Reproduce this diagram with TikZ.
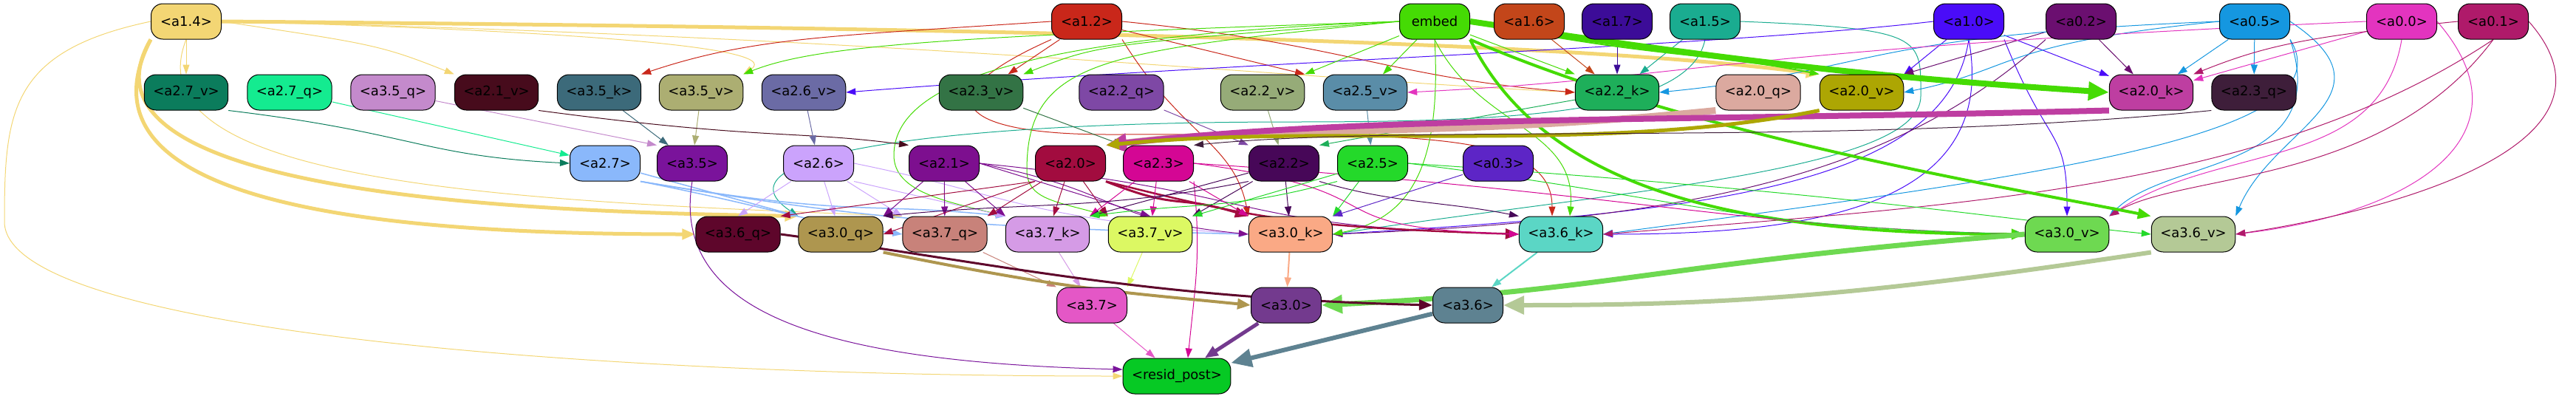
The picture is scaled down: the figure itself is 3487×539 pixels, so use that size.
\documentclass[tikz,border=0pt]{standalone}
\usepackage{fontspec}
\setmainfont{DejaVu Sans}
\usetikzlibrary{arrows.meta,backgrounds}

\definecolor{ca14}{HTML}{F3D674}
\definecolor{ca12}{HTML}{C9271A}
\definecolor{cemb}{HTML}{45DB04}
\definecolor{ca16}{HTML}{C3461A}
\definecolor{ca17}{HTML}{3C0C98}
\definecolor{ca15}{HTML}{1AAC90}
\definecolor{ca10}{HTML}{4A0CF8}
\definecolor{ca02}{HTML}{6B0F70}
\definecolor{ca05}{HTML}{1597E0}
\definecolor{ca00}{HTML}{E334BF}
\definecolor{ca01}{HTML}{AF1A6A}
\definecolor{ca27v}{HTML}{0B7C5C}
\definecolor{ca27q}{HTML}{14EB90}
\definecolor{ca35q}{HTML}{C48ACC}
\definecolor{ca21v}{HTML}{470B1C}
\definecolor{ca35k}{HTML}{3C6A7A}
\definecolor{ca35v}{HTML}{ACAE72}
\definecolor{ca26v}{HTML}{6B6BA5}
\definecolor{ca23v}{HTML}{337345}
\definecolor{ca22q}{HTML}{7E48A5}
\definecolor{ca22v}{HTML}{96AB78}
\definecolor{ca25v}{HTML}{5A8DA8}
\definecolor{ca22k}{HTML}{1EAF5A}
\definecolor{ca20q}{HTML}{DBA99F}
\definecolor{ca20v}{HTML}{ADA603}
\definecolor{ca20k}{HTML}{BE3EA1}
\definecolor{ca23q}{HTML}{3E1E3A}
\definecolor{ca27}{HTML}{8AB8FB}
\definecolor{ca35}{HTML}{7A139B}
\definecolor{ca26}{HTML}{CBA3FC}
\definecolor{ca21}{HTML}{7D0F8F}
\definecolor{ca20}{HTML}{A20C3F}
\definecolor{ca23}{HTML}{D40694}
\definecolor{ca22}{HTML}{470758}
\definecolor{ca25}{HTML}{24D92A}
\definecolor{ca03}{HTML}{5D25C6}
\definecolor{ca36q}{HTML}{5E062B}
\definecolor{ca30q}{HTML}{AE964F}
\definecolor{ca37q}{HTML}{C8827A}
\definecolor{ca37k}{HTML}{D59BE6}
\definecolor{ca37v}{HTML}{DCF863}
\definecolor{ca30k}{HTML}{FAA985}
\definecolor{ca36k}{HTML}{5BD6C5}
\definecolor{ca30v}{HTML}{6ED951}
\definecolor{ca36v}{HTML}{B4C996}
\definecolor{ca37}{HTML}{E457C6}
\definecolor{ca30}{HTML}{733A8E}
\definecolor{ca36}{HTML}{5E8291}
\definecolor{cres}{HTML}{06C924}

\tikzset{
  box/.style={draw=black, line width=1pt, rounded corners=16pt, minimum width=95pt,
    minimum height=48pt, inner xsep=12pt, font=\fontsize{18pt}{20pt}\selectfont},
  ed/.style={draw=#1, line width=1pt, -{Triangle[length=13pt,width=9pt]}},
  edm/.style={draw=#1, line width=3pt, -{Triangle[length=18pt,width=14pt]}},
  edb/.style={draw=#1, line width=6pt, -{Triangle[length=28pt,width=24pt]}},
}

\begin{document}
\begin{tikzpicture}[x=1pt,y=-1pt]
\useasboundingbox (0,0) rectangle (3487,539);

% top row
\node[box, fill=ca14] (a14) at (252,29) {<a1.4>};
\node[box, fill=ca12] (a12) at (1471,29) {<a1.2>};
\node[box, fill=cemb] (embed) at (1942,29) {embed};
\node[box, fill=ca16] (a16) at (2070,29) {<a1.6>};
\node[box, fill=ca17] (a17) at (2189,29) {<a1.7>};
\node[box, fill=ca15] (a15) at (2308,29) {<a1.5>};
\node[box, fill=ca10] (a10) at (2665,29) {<a1.0>};
\node[box, fill=ca02] (a02) at (2817,29) {<a0.2>};
\node[box, fill=ca05] (a05) at (3052,29) {<a0.5>};
\node[box, fill=ca00] (a00) at (3251,29) {<a0.0>};
\node[box, fill=ca01] (a01) at (3375,29) {<a0.1>};

% second row
\node[box, fill=ca27v] (a27v) at (252,125) {<a2.7\_v>};
\node[box, fill=ca27q] (a27q) at (392,125) {<a2.7\_q>};
\node[box, fill=ca35q] (a35q) at (532,125) {<a3.5\_q>};
\node[box, fill=ca21v] (a21v) at (672,125) {<a2.1\_v>};
\node[box, fill=ca35k] (a35k) at (811,125) {<a3.5\_k>};
\node[box, fill=ca35v] (a35v) at (949,125) {<a3.5\_v>};
\node[box, fill=ca26v] (a26v) at (1088,125) {<a2.6\_v>};
\node[box, fill=ca23v] (a23v) at (1328,125) {<a2.3\_v>};
\node[box, fill=ca22q] (a22q) at (1518,125) {<a2.2\_q>};
\node[box, fill=ca22v] (a22v) at (1709,125) {<a2.2\_v>};
\node[box, fill=ca25v] (a25v) at (1848,125) {<a2.5\_v>};
\node[box, fill=ca22k] (a22k) at (2189,125) {<a2.2\_k>};
\node[box, fill=ca20q] (a20q) at (2380,125) {<a2.0\_q>};
\node[box, fill=ca20v] (a20v) at (2520,125) {<a2.0\_v>};
\node[box, fill=ca20k] (a20k) at (2912,125) {<a2.0\_k>};
\node[box, fill=ca23q] (a23q) at (3051,125) {<a2.3\_q>};

% third row
\node[box, fill=ca27] (a27) at (819,221) {<a2.7>};
\node[box, fill=ca35] (a35) at (937,221) {<a3.5>};
\node[box, fill=ca26] (a26) at (1108,221) {<a2.6>};
\node[box, fill=ca21] (a21) at (1278,221) {<a2.1>};
\node[box, fill=ca20] (a20) at (1449,221) {<a2.0>};
\node[box, fill=ca23] (a23) at (1568,221) {<a2.3>};
\node[box, fill=ca22] (a22) at (1738,221) {<a2.2>};
\node[box, fill=ca25] (a25) at (1858,221) {<a2.5>};
\node[box, fill=ca03] (a03) at (2028,221) {<a0.3>};

% fourth row
\node[box, fill=ca36q] (a36q) at (999,317) {<a3.6\_q>};
\node[box, fill=ca30q] (a30q) at (1138,317) {<a3.0\_q>};
\node[box, fill=ca37q] (a37q) at (1279,317) {<a3.7\_q>};
\node[box, fill=ca37k] (a37k) at (1418,317) {<a3.7\_k>};
\node[box, fill=ca37v] (a37v) at (1557,317) {<a3.7\_v>};
\node[box, fill=ca30k] (a30k) at (1747,317) {<a3.0\_k>};
\node[box, fill=ca36k] (a36k) at (2113,317) {<a3.6\_k>};
\node[box, fill=ca30v] (a30v) at (2798,317) {<a3.0\_v>};
\node[box, fill=ca36v] (a36v) at (2969,317) {<a3.6\_v>};

% fifth row and output
\node[box, fill=ca37] (a37) at (1478,413) {<a3.7>};
\node[box, fill=ca30] (a30) at (1741,413) {<a3.0>};
\node[box, fill=ca36] (a36) at (1987,413) {<a3.6>};
\node[box, fill=cres] (resid) at (1593,509) {<resid\_post>};

\begin{scope}[on background layer]
% from a1.4
\draw[ed=ca14] (a14) -- (a27v);
\draw[ed=ca14] (a14.east) .. controls +(200,30) and +(-100,-40) .. (a21v.north west);
\draw[ed=ca14] (a14.east) .. controls +(400,10) and +(60,-40) .. (a35v.north east);
\draw[ed=ca14] (a14.east) .. controls +(900,20) and +(-400,-20) .. (a22k.west);
\draw[edm=ca14, line width=5pt] (a14.east) .. controls +(1200,10) and +(-300,-40) .. (a20v.north west);
\draw[edm=ca14, line width=5pt] (a14.south west) .. controls +(-120,230) and +(-400,0) .. (a36q.west);
\draw[edm=ca14, line width=5pt] (a14.south west) .. controls +(-130,220) and +(-300,-5) .. (a30q.north west);
\draw[ed=ca14] (a14.south) .. controls +(-80,200) and +(-500,-20) .. (a37q.north west);
\draw[ed=ca14] (a14.west) .. controls +(-190,40) and +(0,-150) .. (6,300) .. controls +(0,150) and +(-700,0) .. (resid.west);

% from a1.2
\draw[ed=ca12] (a12.west) .. controls +(-300,20) and +(150,-50) .. (a35k.north east);
\draw[ed=ca12] (a12) -- (a23v);
\draw[ed=ca12] (a12) -- (a22v.north east);
\draw[ed=ca12] (a12.east) .. controls +(300,30) and +(-250,-20) .. (a22k.west);
\draw[ed=ca12] (a12.south east) .. controls +(80,130) and +(-20,-100) .. (a30k.north west);
\draw[ed=ca12] (a12.south west) .. controls +(-180,80) and +(-200,0) .. (1500,182) .. controls +(400,0) and +(0,-120) .. ([xshift=-12pt]a36k.north);

% a1.6, a1.7, a1.5
\draw[ed=ca16] (a16) -- (a22k);
\draw[ed=ca17] (a17) -- (a22k);
\draw[ed=ca15] (a15) -- (a22k);
\draw[ed=ca15] (a15.south) .. controls +(-20,100) and +(300,0) .. (1750,165) .. controls +(-500,0) and +(-120,-80) .. (a30q.north west);
\draw[ed=ca15] (a15.east) .. controls +(250,10) and +(0,-80) .. (2600,130) .. controls +(0,100) and +(400,-60) .. (a30k.east);

% from a1.0
\draw[ed=ca10] (a10.west) .. controls +(-300,35) and +(500,-40) .. (a26v.east);
\draw[ed=ca10] (a10) -- (a20v.north east);
\draw[ed=ca10] (a10) -- (a20k);
\draw[ed=ca10] (a10.south east) .. controls +(60,150) and +(0,-120) .. (a30v.north);
\draw[ed=ca10] (a10.south) .. controls +(-30,200) and +(500,-30) .. (a30k.east);
\draw[ed=ca10] (a10.south) .. controls +(40,220) and +(300,0) .. (a36k.east);

% from a0.2
\draw[ed=ca02] (a02) -- (a20v.north east);
\draw[ed=ca02] (a02) -- (a20k);
\draw[ed=ca02] (a02.south west) .. controls +(-200,180) and +(500,-20) .. (a30k.east);

% from a0.5
\draw[ed=ca05] (a05.west) .. controls +(-500,20) and +(300,-30) .. (a22k.east);
\draw[ed=ca05] (a05.west) .. controls +(-300,30) and +(150,-30) .. (a20v.east);
\draw[ed=ca05] (a05) -- (a20k);
\draw[ed=ca05] (a05) -- (a23q);
\draw[ed=ca05] (a05.south east) .. controls +(80,130) and +(600,-80) .. (a36k.east);
\draw[ed=ca05] (a05.east) .. controls +(150,100) and +(50,-120) .. (a36v.north east);
\draw[ed=ca05] (a05.south east) .. controls +(60,180) and +(80,-80) .. (a30v.north east);

% from a0.0
\draw[ed=ca00] (a00.west) .. controls +(-900,40) and +(400,-20) .. (a25v.east);
\draw[ed=ca00] (a00) -- (a20k);
\draw[ed=ca00] (a00.south) .. controls +(-30,180) and +(150,-100) .. (a30v.north east);
\draw[ed=ca00] (a00.east) .. controls +(130,150) and +(250,-30) .. (a36v.east);

% from a0.1
\draw[ed=ca01] (a01.west) .. controls +(-200,20) and +(100,-40) .. (a20k.north east);
\draw[ed=ca01] (a01.east) .. controls +(150,170) and +(200,-30) .. (a36v.east);
\draw[ed=ca01] (a01.south) .. controls +(-300,200) and +(500,-40) .. (a36k.east);
\draw[ed=ca01] (a01.south) .. controls +(-150,200) and +(100,-60) .. (a30v.north east);

% from embed
\draw[ed=cemb] (embed.west) .. controls +(-600,20) and +(100,-40) .. (a35v.north east);
\draw[ed=cemb] (embed.west) .. controls +(-400,30) and +(100,-40) .. (a23v.north east);
\draw[ed=cemb] (embed) -- (a22v.north east);
\draw[ed=cemb] (embed) -- (a25v);
\draw[ed=cemb] (embed) -- (a22k.north west);
\draw[ed=cemb, line width=2pt] (embed.east) .. controls +(250,50) and +(-150,-30) .. (a20v.north west);
\draw[edb=cemb, line width=8pt] (embed.east) .. controls +(400,60) and +(-300,-20) .. (a20k.west);
\draw[edm=cemb, line width=4pt] (embed.south east) .. controls +(100,200) and +(-400,0) .. (a30v.west);
\draw[edm=cemb, line width=4pt] (embed.south east) .. controls +(300,130) and +(-200,-40) .. (a36v.north west);
\draw[ed=cemb] (embed.west) .. controls +(-500,20) and +(0,-100) .. (1210,210) .. controls +(0,50) and +(-80,-20) .. (a37k.north west);
\draw[ed=cemb] (embed.west) .. controls +(-400,40) and +(0,-150) .. (1390,230) .. controls +(0,40) and +(-70,-20) .. (a37v.north west);
\draw[ed=cemb] (embed.south) .. controls +(10,180) and +(100,-20) .. (a30k.east);
\draw[ed=cemb] (embed.south) .. controls +(60,120) and +(10,-120) .. ([xshift=12pt]a36k.north);

% second row to third row
\draw[ed=ca27v] (a27v.south east) .. controls +(250,30) and +(-200,-10) .. (a27.west);
\draw[ed=ca27q] (a27q) -- (a27);
\draw[ed=ca35q] (a35q) -- (a35.north west);
\draw[ed=ca35k] (a35k) -- (a35);
\draw[ed=ca35v] (a35v) -- (a35);
\draw[ed=ca21v] (a21v.south east) .. controls +(300,40) and +(-150,-20) .. (a21.north west);
\draw[ed=ca26v] (a26v) -- (a26);
\draw[ed=ca23v] (a23v) -- (a23.north west);
\draw[ed=ca22q] (a22q) -- (a22.north west);
\draw[ed=ca22v] (a22v) -- (a22);
\draw[ed=ca22k] (a22k) -- (a22.north east);
\draw[ed=ca25v] (a25v) -- (a25);
\draw[edb=ca20q, line width=9pt] (a20q.south west) .. controls +(-400,40) and +(250,-30) .. (a20.north east);
\draw[edb=ca20k, line width=8pt] (a20k.south west) .. controls +(-600,15) and +(350,-40) .. (a20.north east);
\draw[edm=ca20v, line width=5pt] (a20v.south west) .. controls +(-300,60) and +(300,-30) .. (a20.north east);
\draw[ed=ca23q] (a23q.south west) .. controls +(-500,50) and +(300,-30) .. (a23.north east);

% third row to fourth row
\draw[ed=ca27, line width=1.5pt] (a27) -- (a30q.north west);
\draw[ed=ca27, line width=1.5pt] (a27.south east) .. controls +(200,40) and +(-150,-20) .. (a37q.west);
\draw[ed=ca27, line width=1.5pt] (a27.south east) .. controls +(300,50) and +(-200,-20) .. (a37k.north west);
\draw[ed=ca27, line width=1.5pt] (a27.south east) .. controls +(300,50) and +(-400,-10) .. (a30k.west);
\draw[ed=ca35] (a35.south) .. controls +(-30,180) and +(-400,-10) .. ([yshift=9pt]resid.west);
\draw[ed=ca26] (a26) -- (a36q.north);
\draw[ed=ca26] (a26) -- (a30q);
\draw[ed=ca26] (a26) -- (a37q.north west);
\draw[ed=ca26] (a26.south east) -- (a37k.north west);
\draw[ed=ca26] (a26.east) .. controls +(200,40) and +(-300,-20) .. (a30k.west);
\draw[ed=ca21] (a21) -- (a30q.north east);
\draw[ed=ca21] (a21) -- (a37q);
\draw[ed=ca21] (a21) -- (a37k.north west);
\draw[ed=ca21] (a21.east) -- (a37v.north);
\draw[ed=ca21] (a21.east) .. controls +(200,40) and +(-200,-20) .. (a30k.west);
\draw[ed=ca21] (a21.east) .. controls +(400,40) and +(-400,-10) .. (a36k.west);
\draw[ed=ca20] (a20.south west) -- (a36q.north east);
\draw[ed=ca20] (a20.south west) -- (a30q.east);
\draw[ed=ca20] (a20) -- (a37q.north east);
\draw[ed=ca20] (a20) -- (a37k);
\draw[ed=ca20] (a20) -- (a37v.north west);
\draw[edm=ca20] (a20.south east) .. controls +(100,40) and +(-100,-30) .. (a30k.north west);
\draw[edm=ca20, line width=2.5pt] (a20.south east) .. controls +(200,50) and +(-300,-10) .. (a36k.west);
\draw[ed=ca23] (a23) -- (a37k.north east);
\draw[ed=ca23] (a23) -- (a37v);
\draw[ed=ca23] (a23) -- (a30k.north west);
\draw[ed=ca23] (a23.east) .. controls +(300,40) and +(-300,-10) .. (a36k.west);
\draw[ed=ca23] (a23.east) .. controls +(600,40) and +(-400,-10) .. (a30v.west);
\draw[ed=ca23] (a23.south east) .. controls +(10,100) and +(10,-100) .. ([xshift=15pt]resid.north);
\draw[ed=ca22] (a22.south west) .. controls +(-200,40) and +(200,-20) .. (a30q.north east);
\draw[ed=ca22] (a22) -- (a37k.north east);
\draw[ed=ca22] (a22) -- (a37v.north east);
\draw[ed=ca22] (a22) -- (a30k);
\draw[ed=ca22] (a22.south east) .. controls +(100,30) and +(-100,-20) .. (a36k.north west);
\draw[ed=ca25] (a25.south west) .. controls +(-150,40) and +(150,-20) .. (a37k.north east);
\draw[ed=ca25] (a25) -- (a37v.north east);
\draw[ed=ca25] (a25) -- (a30k.north east);
\draw[ed=ca25] (a25.east) .. controls +(400,50) and +(-400,-10) .. (a30v.west);
\draw[ed=ca25] (a25.east) .. controls +(600,40) and +(-200,-20) .. (a36v.west);
\draw[ed=ca03] (a03) -- (a30k.north east);

% fourth row to fifth row
\draw[ed=ca37q] (a37q) -- (a37.north west);
\draw[ed=ca37k] (a37k) -- (a37);
\draw[ed=ca37v] (a37v) -- (a37.north east);
\draw[edm=ca30q, line width=4pt] (a30q.south east) .. controls +(250,50) and +(-200,-20) .. (a30.west);
\draw[ed=ca30k, line width=2pt] (a30k) -- (a30);
\draw[edb=ca30v, line width=7pt] (a30v.west) .. controls +(-500,40) and +(400,-20) .. (a30.east);
\draw[edm=ca36q, line width=3pt] (a36q.east) .. controls +(300,40) and +(-400,-10) .. (a36.west);
\draw[ed=ca36k, line width=2pt] (a36k) -- (a36);
\draw[edb=ca36v] (a36v.south west) .. controls +(-400,60) and +(300,0) .. (a36.east);

% into resid_post
\draw[ed=ca37] (a37) -- (resid);
\draw[edm=ca30, line width=5pt] (a30) -- (resid);
\draw[edb=ca36] (a36) -- (resid);
\end{scope}
\end{tikzpicture}
\end{document}
